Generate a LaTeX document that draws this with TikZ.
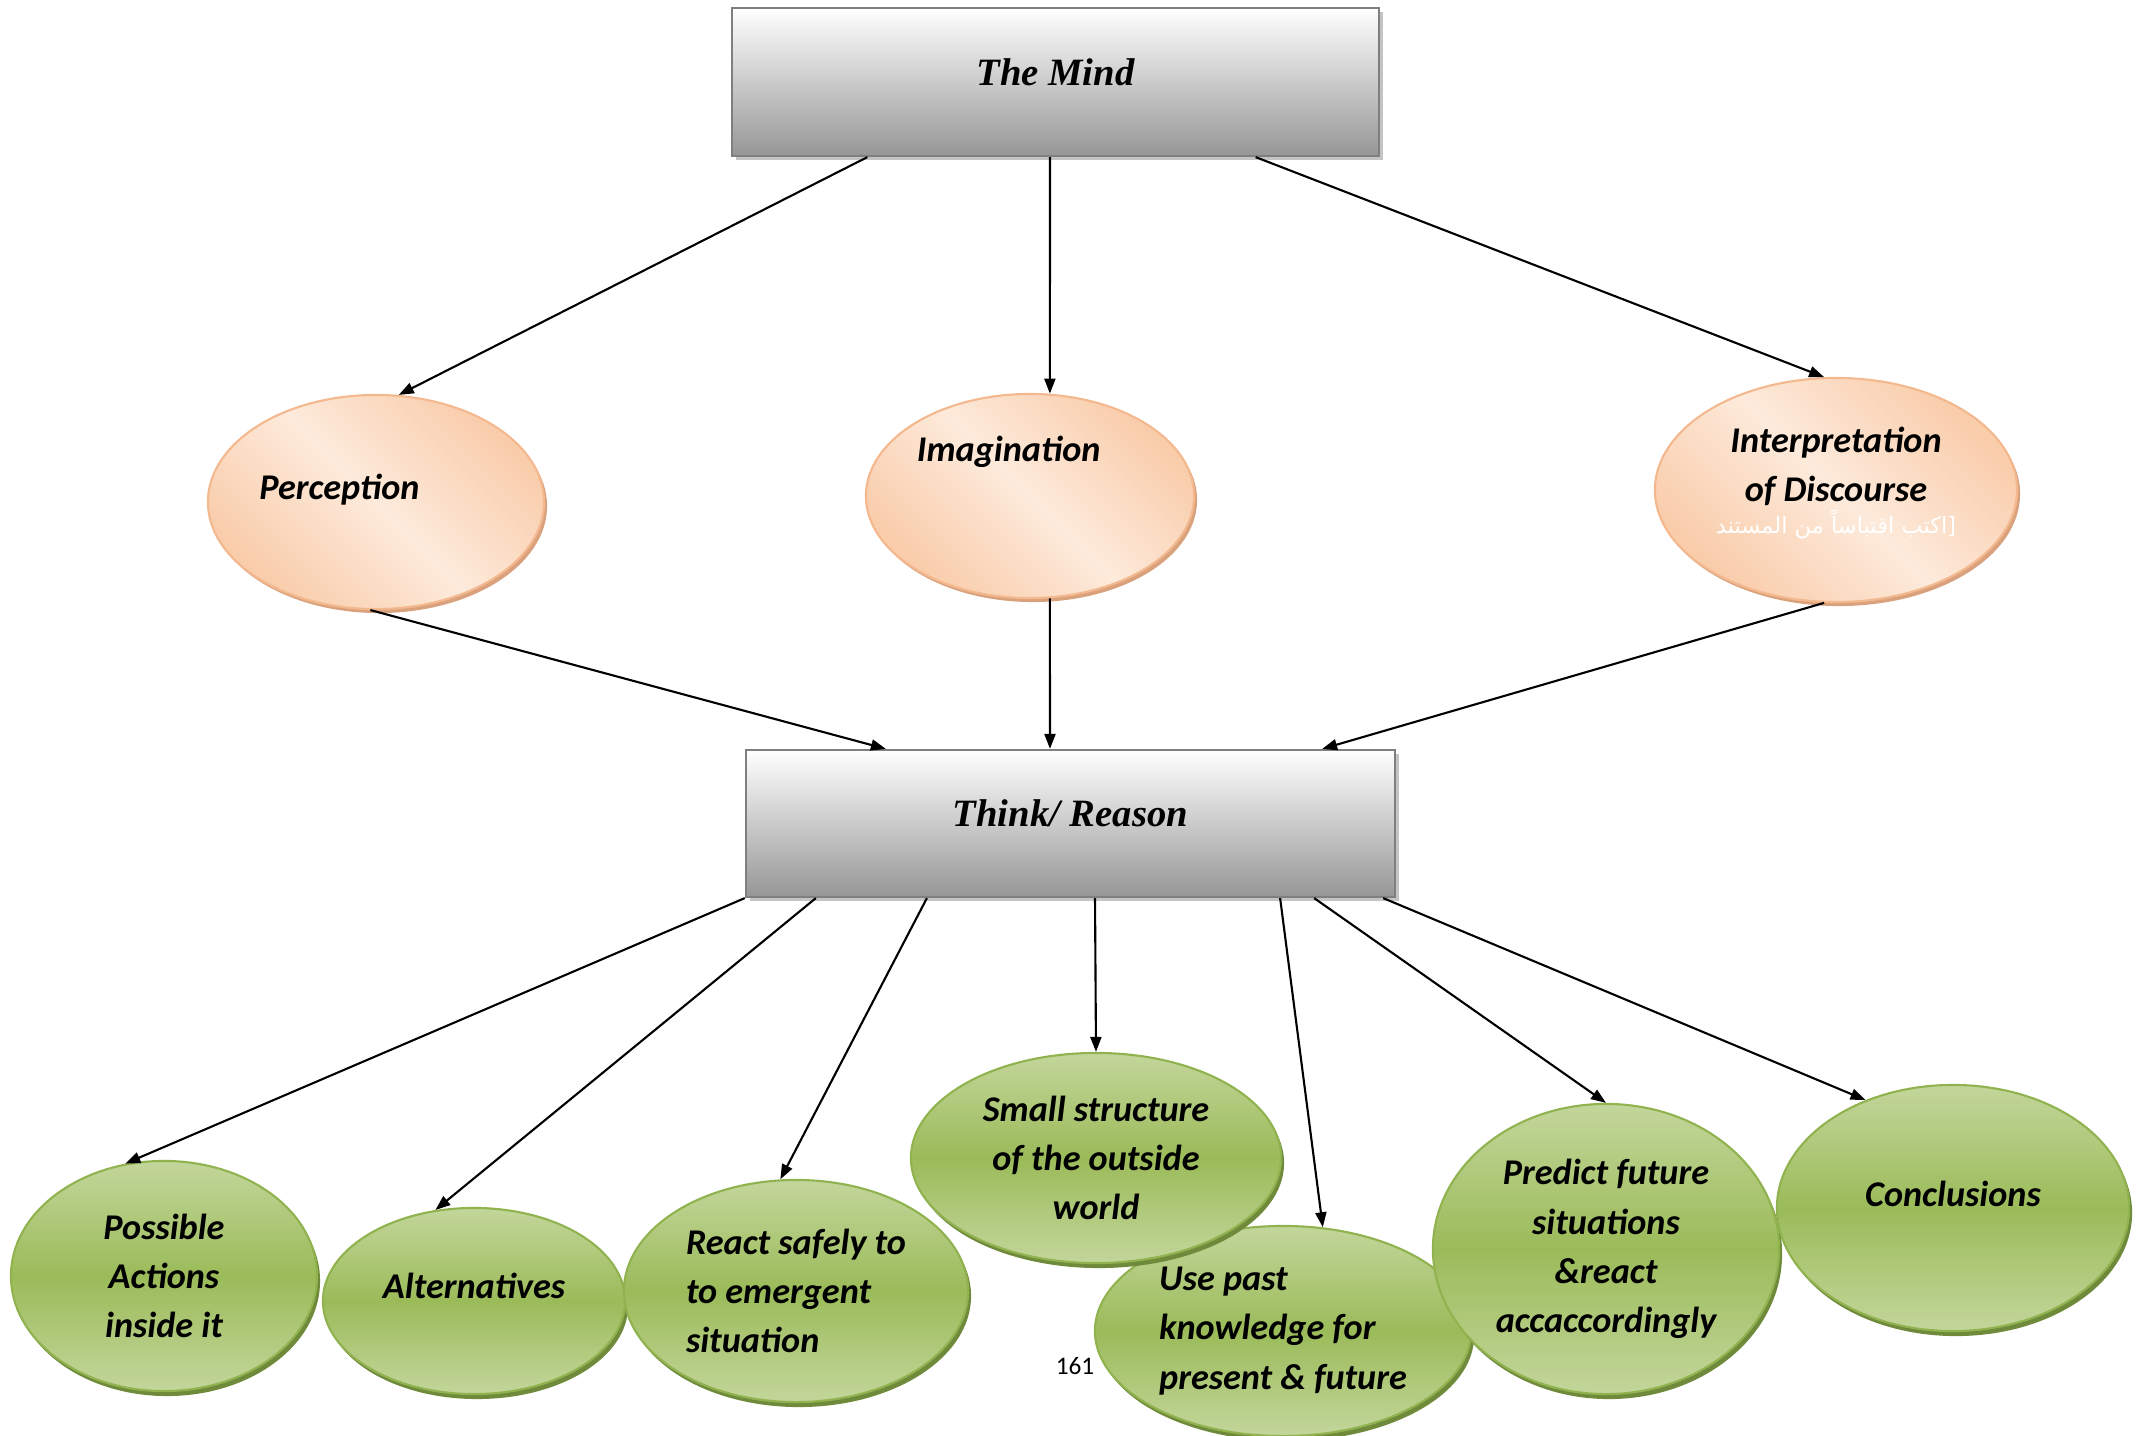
\documentclass[tikz,border=0pt]{standalone}
\usepackage{fontspec}
\setmainfont{Carlito}
\newfontfamily\boxfont{Liberation Serif}
\newfontfamily\arabicfont[Script=Arabic]{DejaVu Sans}
\TeXXeTstate=1
\usetikzlibrary{arrows.meta, shapes.geometric, shadows}

\definecolor{boxtop}{HTML}{FFFFFF}
\definecolor{boxbot}{HTML}{969696}
\definecolor{boxedge}{HTML}{7F7F7F}
\definecolor{boxshadow}{HTML}{C4C4C4}
\definecolor{orlight}{HTML}{FDEADB}
\definecolor{ordark}{HTML}{F9CCAA}
\definecolor{oredge}{HTML}{F4B88E}
\definecolor{orshadow}{HTML}{D9A27D}
\definecolor{grlight}{HTML}{C3D69B}
\definecolor{grmid}{HTML}{9BBB59}
\definecolor{gredge}{HTML}{90B24F}
\definecolor{grshadow}{HTML}{6E8A3A}

\begin{document}
\begin{tikzpicture}[x=0.01cm, y=-0.01cm,
		mindbox/.style={draw=boxedge, line width=0.6pt, top color=boxtop, bottom color=boxbot,
			drop shadow={shadow xshift=0.04cm, shadow yshift=-0.04cm, fill=boxshadow, opacity=1},
			text depth=0.2cm, font=\boxfont\bfseries\itshape\fontsize{11}{13}\selectfont},
		faculty/.style={ellipse, draw=oredge, line width=0.6pt, inner sep=0pt,
			top color=ordark, bottom color=ordark, middle color=orlight, shading angle=-45,
			drop shadow={shadow xshift=0.03cm, shadow yshift=-0.04cm, fill=orshadow, opacity=1},
			align=center, font=\bfseries\itshape\fontsize{10.3}{14}\selectfont},
		outcome/.style={ellipse, draw=gredge, line width=0.6pt, inner sep=0pt,
			top color=grlight, bottom color=grlight, middle color=grmid,
			drop shadow={shadow xshift=0.03cm, shadow yshift=-0.05cm, fill=grshadow, opacity=1},
			align=center, font=\bfseries\itshape\fontsize{10.3}{14}\selectfont},
		arr/.style={-{Triangle[length=0.15cm, width=0.11cm]}, line width=0.6pt}]
		\useasboundingbox (0,0) rectangle (2147,1436);

		% Blocks
		\node[mindbox, minimum width=6.47cm, minimum height=1.48cm] (mind) at (1055.5,82) {The Mind};

		\node[faculty, minimum width=3.36cm, minimum height=2.14cm, text width=2.33cm, align=left, text depth=0.31cm] (perc) at (376,502) {Perception};
		\node[faculty, minimum width=3.28cm, minimum height=2.04cm, text width=2.26cm, align=left, text depth=0.95cm] (imag) at (1030,496) {Imagination};
		\node[faculty, minimum width=3.62cm, minimum height=2.24cm, text depth=0.2cm] (interp) at (1836,490) {Interpretation\\of Discourse\\[-5pt]{\arabicfont\mdseries\upshape\fontsize{6.4}{8}\selectfont\color{white}\beginR[اكتب اقتباساً من المستند\endR}};

		\node[mindbox, minimum width=6.49cm, minimum height=1.47cm] (think) at (1070.5,823.5) {Think/ Reason};

		\node[outcome, minimum width=3.06cm, minimum height=2.30cm] (poss) at (164,1276) {Possible\\Actions\\inside it};
		\node[outcome, minimum width=3.02cm, minimum height=1.86cm, text depth=0.31cm] (alt) at (474,1301) {Alternatives};
		\node[outcome, minimum width=3.44cm, minimum height=2.22cm, align=left] (react) at (796,1291) {React safely to\\to emergent\\situation};
		\node[outcome, minimum width=3.76cm, minimum height=2.10cm, align=left] (usepast) at (1283,1331) {Use past\\knowledge for\\present \& future};
		\node[outcome, minimum width=3.70cm, minimum height=2.10cm] (small) at (1096,1158) {Small structure\\of the outside\\world};
		\node[outcome, minimum width=3.46cm, minimum height=2.90cm] (predict) at (1606,1249) {Predict future\\situations\\\&react\\accaccordingly};
		\node[outcome, minimum width=3.52cm, minimum height=2.46cm, text depth=0.29cm] (concl) at (1953,1208) {Conclusions};

		\node[font=\fontsize{7.2}{9}\selectfont] (pagenum) at (1075,1366) {161};

		% Arrows
		\draw[arr] ([xshift=-1.88cm]mind.south) -- (perc.78);
		\draw[arr] ([xshift=-0.055cm]mind.south) -- (imag.79);
		\draw[arr] ([xshift=2.0cm]mind.south) -- (interp.96);
		\draw[arr] (perc.267) -- ([xshift=-1.845cm]think.north);
		\draw[arr] (imag.281) -- ([xshift=-0.205cm]think.north);
		\draw[arr] (interp.264) -- ([xshift=2.515cm]think.north);
		\draw[arr] (think.south west) -- (poss.109);
		\draw[arr] ([xshift=-2.545cm]think.south) -- (alt.113);
		\draw[arr] ([xshift=-1.435cm]think.south) -- (react.98);
		\draw[arr] ([xshift=0.245cm]think.south) -- (small.north);
		\draw[arr] ([xshift=2.095cm]think.south) -- (usepast.69);
		\draw[arr] ([xshift=2.435cm]think.south) -- (predict.north);
		\draw[arr] ([xshift=3.125cm]think.south) -- (concl.129);
	\end{tikzpicture}
\end{document}
